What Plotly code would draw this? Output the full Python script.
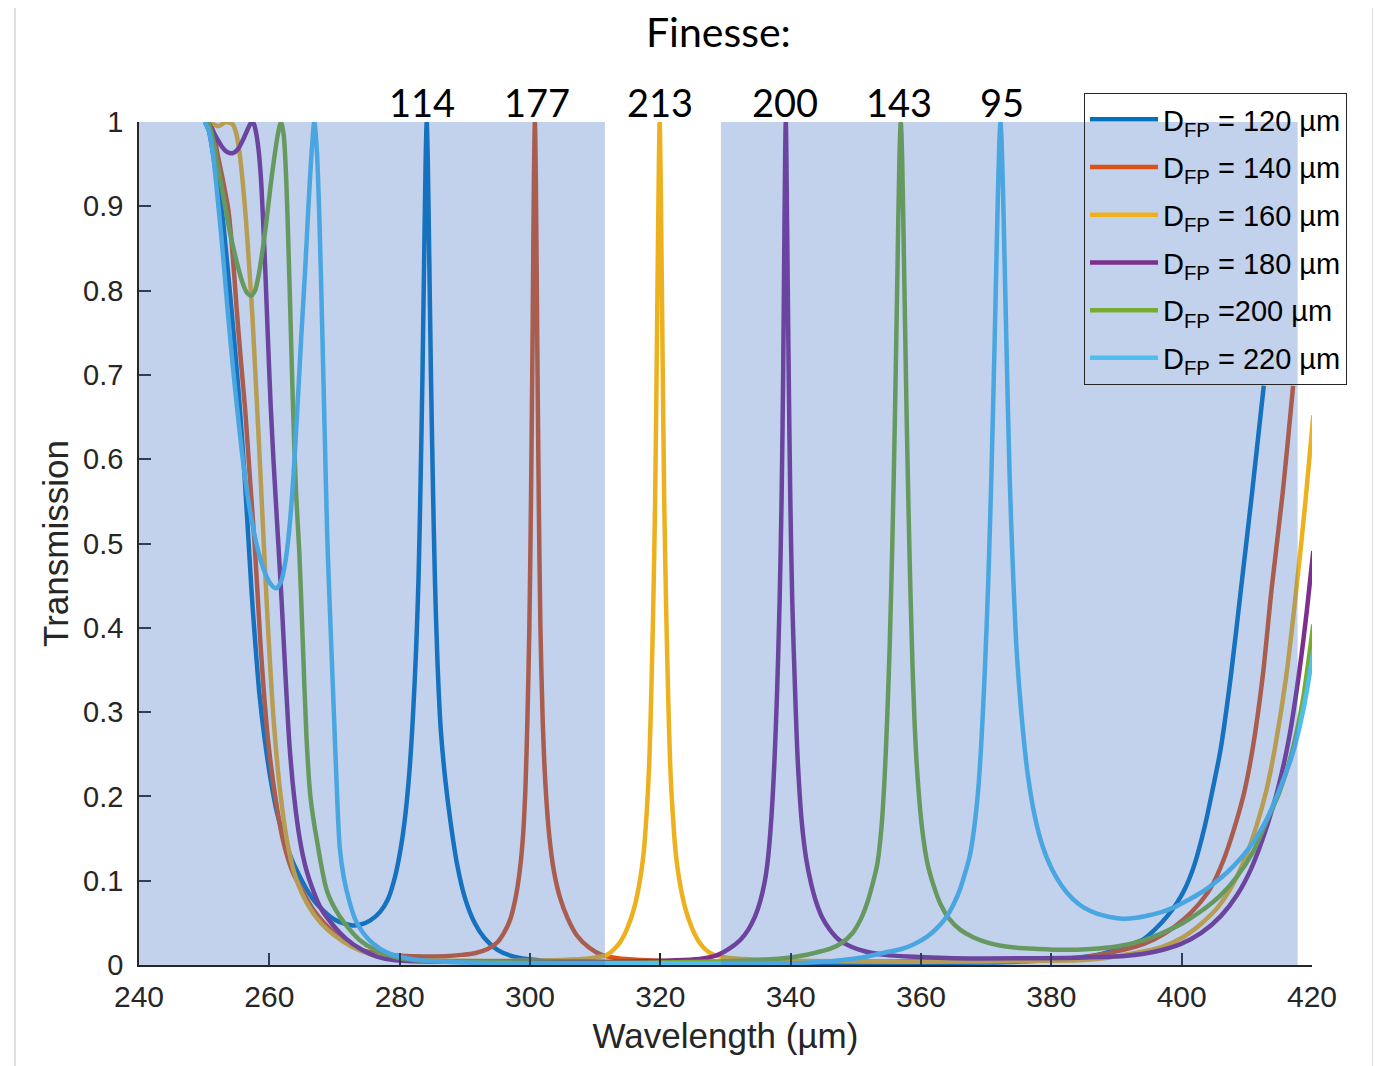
import plotly.graph_objects as go

# ---------------- data ----------------
wl_120 = [250.1, 250.7, 251.3, 252.0, 252.7, 253.5, 254.2, 254.9, 255.5, 256.2, 256.8, 257.3, 257.8, 258.5, 259.3,
          260.2, 261.2, 262.4, 263.4, 264.4, 265.7, 267.0, 268.5, 270.0, 271.5, 272.8, 274.0, 275.5, 277.0, 278.2,
          279.3, 280.2, 280.9, 281.5, 282.0, 282.5, 282.9, 283.2, 283.5, 283.8, 284.0, 284.15, 284.3, 284.5, 284.8,
          285.1, 285.4, 285.8, 286.3, 287.0, 287.8, 288.8, 290.0, 291.5, 293.0, 295.0, 297.5, 301.0, 306.0, 315.0,
          330.0, 350.0, 370.0, 378.0, 383.0, 387.0, 389.0, 391.5, 394.2, 396.0, 397.8, 399.3, 400.6, 402.0, 403.5,
          404.8, 406.0, 407.5, 409.1, 410.8, 412.6]
t_120 = [1.0, 0.99, 0.965, 0.93, 0.896, 0.835, 0.777, 0.715, 0.658, 0.58, 0.504, 0.44, 0.386, 0.32, 0.267,
         0.22, 0.18, 0.148, 0.126, 0.109, 0.09, 0.075, 0.063, 0.054, 0.049, 0.047, 0.048, 0.053, 0.063, 0.078,
         0.105, 0.14, 0.18, 0.23, 0.29, 0.37, 0.46, 0.57, 0.70, 0.86, 0.96, 1.0, 0.96, 0.86, 0.70,
         0.57, 0.46, 0.36, 0.28, 0.22, 0.17, 0.12, 0.08, 0.05, 0.032, 0.018, 0.010, 0.006, 0.004, 0.003,
         0.002, 0.002, 0.003, 0.005, 0.008, 0.012, 0.016, 0.022, 0.031, 0.043, 0.058, 0.074, 0.092, 0.12, 0.163,
         0.21, 0.257, 0.34, 0.446, 0.56, 0.687]

wl_140 = [250.9, 251.5, 252.1, 252.9, 253.7, 254.4, 255.0, 255.6, 256.3, 257.0, 257.7, 258.2, 258.6, 259.2, 259.8,
          260.9, 262.1, 263.5, 265.0, 266.7, 268.5, 270.5, 272.5, 274.5, 277.0, 280.0, 283.6, 287.0, 289.5, 291.5,
          293.5, 295.0, 296.0, 297.0, 297.8, 298.4, 298.9, 299.3, 299.6, 299.9, 300.15, 300.4, 300.6, 300.75, 300.9,
          301.1, 301.35, 301.6, 301.95, 302.4, 303.0, 303.7, 304.6, 305.8, 307.2, 309.0, 311.0, 313.5, 317.0, 325.0,
          350.0, 370.0, 380.0, 385.0, 388.0, 391.0, 394.2, 397.5, 400.3, 402.5, 404.5, 406.4, 408.1, 409.6, 410.9,
          412.4, 413.8, 415.5, 417.1]
t_140 = [1.0, 0.985, 0.96, 0.93, 0.896, 0.84, 0.777, 0.72, 0.658, 0.58, 0.504, 0.44, 0.386, 0.32, 0.267,
         0.20, 0.148, 0.112, 0.089, 0.066, 0.049, 0.035, 0.025, 0.017, 0.013, 0.011, 0.010, 0.0105, 0.012, 0.014,
         0.019, 0.027, 0.038, 0.055, 0.08, 0.11, 0.15, 0.21, 0.29, 0.40, 0.55, 0.75, 0.93, 1.0, 0.93,
         0.75, 0.55, 0.40, 0.29, 0.21, 0.15, 0.11, 0.08, 0.055, 0.035, 0.021, 0.012, 0.008, 0.006, 0.004,
         0.004, 0.005, 0.006, 0.009, 0.013, 0.018, 0.025, 0.038, 0.054, 0.071, 0.092, 0.124, 0.163, 0.205, 0.257,
         0.34, 0.446, 0.56, 0.687]

wl_160 = [250.9, 251.5, 252.1, 252.7, 253.3, 253.9, 254.4, 254.9, 255.4, 255.9, 256.4, 256.9, 257.4, 257.9, 258.4,
          258.9, 259.4, 259.9, 260.4, 260.9, 261.6, 262.7, 263.8, 265.0, 266.5, 268.0, 270.0, 272.6, 275.0, 277.5,
          281.0, 290.0, 300.0, 305.0, 308.0, 310.0, 311.8, 312.8, 313.9, 315.0, 316.0, 316.8, 317.4, 317.9, 318.3,
          318.6, 318.9, 319.2, 319.45, 319.7, 319.9, 320.1, 320.35, 320.6, 320.9, 321.2, 321.5, 321.9, 322.4, 323.0,
          323.8, 324.8, 325.9, 327.0, 328.2, 330.0, 333.0, 340.0, 360.0, 380.0, 385.0, 389.0, 392.0, 396.8, 400.0,
          403.0, 405.5, 407.6, 409.6, 411.4, 413.0, 414.3, 416.0, 417.6, 419.0, 420.2]
t_160 = [1.0, 0.997, 0.995, 0.997, 1.0, 0.999, 0.997, 0.987, 0.965, 0.93, 0.885, 0.83, 0.77, 0.695, 0.62,
         0.54, 0.46, 0.386, 0.32, 0.267, 0.21, 0.148, 0.11, 0.085, 0.064, 0.049, 0.035, 0.022, 0.014, 0.009,
         0.006, 0.005, 0.005, 0.006, 0.007, 0.009, 0.012, 0.018, 0.028, 0.045, 0.068, 0.097, 0.13, 0.18, 0.24,
         0.32, 0.42, 0.55, 0.72, 0.90, 1.0, 0.90, 0.72, 0.55, 0.42, 0.32, 0.24, 0.18, 0.13, 0.097,
         0.068, 0.045, 0.028, 0.018, 0.012, 0.009, 0.007, 0.005, 0.004, 0.005, 0.006, 0.009, 0.013, 0.021, 0.032,
         0.049, 0.068, 0.092, 0.124, 0.163, 0.207, 0.257, 0.34, 0.446, 0.55, 0.652]

wl_180 = [250.6, 251.3, 252.0, 252.8, 253.6, 254.4, 255.2, 255.9, 256.6, 257.1, 257.5, 257.9, 258.3, 258.7, 259.0,
          259.4, 259.8, 260.2, 260.7, 261.3, 261.9, 262.5, 263.1, 263.8, 264.7, 265.6, 266.7, 268.0, 269.6, 271.8,
          274.2, 276.5, 279.0, 285.0, 300.0, 315.0, 326.0, 328.5, 330.7, 332.3, 333.5, 334.5, 335.3, 336.0, 336.5,
          337.0, 337.5, 337.9, 338.3, 338.6, 338.85, 339.05, 339.25, 339.45, 339.7, 339.95, 340.25, 340.7, 341.1, 341.7,
          342.4, 343.1, 343.9, 344.8, 346.0, 347.4, 349.2, 351.5, 354.5, 358.0, 365.0, 375.0, 385.0, 391.6, 396.0,
          399.9, 403.0, 406.0, 408.5, 410.7, 412.8, 414.8, 416.5, 418.1, 419.2, 420.2]
t_180 = [1.0, 0.99, 0.98, 0.97, 0.964, 0.963, 0.968, 0.978, 0.99, 0.998, 1.0, 0.99, 0.97, 0.935, 0.89,
         0.82, 0.74, 0.665, 0.59, 0.51, 0.43, 0.34, 0.26, 0.20, 0.148, 0.115, 0.089, 0.066, 0.049, 0.031,
         0.018, 0.010, 0.006, 0.004, 0.004, 0.004, 0.007, 0.011, 0.020, 0.030, 0.042, 0.057, 0.075, 0.098, 0.125,
         0.17, 0.24, 0.32, 0.43, 0.55, 0.70, 0.88, 1.0, 0.88, 0.70, 0.55, 0.43, 0.32, 0.24, 0.17,
         0.125, 0.098, 0.075, 0.057, 0.042, 0.030, 0.022, 0.016, 0.012, 0.010, 0.008, 0.008, 0.009, 0.011, 0.016,
         0.025, 0.038, 0.058, 0.083, 0.115, 0.158, 0.21, 0.27, 0.351, 0.42, 0.491]

wl_200 = [250.6, 251.2, 251.8, 252.4, 253.1, 253.8, 254.5, 255.3, 256.0, 256.6, 257.2, 257.8, 258.4, 259.0, 259.6,
          260.2, 260.8, 261.3, 261.8, 262.2, 262.6, 262.9, 263.2, 263.6, 264.1, 264.6, 265.1, 265.7, 266.3, 267.3,
          268.8, 270.2, 271.6, 273.8, 276.2, 279.0, 282.0, 290.0, 300.0, 320.0, 335.0, 340.0, 343.5, 346.0, 347.8,
          349.5, 350.8, 351.8, 352.6, 353.3, 353.9, 354.4, 354.8, 355.2, 355.6, 356.0, 356.4, 356.7, 356.9, 357.1,
          357.4, 357.8, 358.2, 358.6, 359.0, 359.5, 360.2, 361.0, 361.9, 363.0, 364.3, 366.0, 368.0, 370.5, 374.0,
          378.0, 382.0, 386.0, 390.0, 394.0, 397.0, 400.0, 403.0, 406.0, 408.5, 411.0, 413.0, 415.0, 417.0, 418.5,
          420.2]
t_200 = [1.0, 0.985, 0.96, 0.935, 0.905, 0.875, 0.85, 0.825, 0.807, 0.797, 0.794, 0.80, 0.82, 0.85, 0.885,
         0.925, 0.96, 0.985, 1.0, 0.985, 0.93, 0.86, 0.78, 0.67, 0.56, 0.49, 0.39, 0.27, 0.20, 0.148,
         0.089, 0.065, 0.049, 0.030, 0.018, 0.010, 0.006, 0.004, 0.003, 0.003, 0.006, 0.009, 0.014, 0.019, 0.026,
         0.038, 0.055, 0.075, 0.097, 0.12, 0.16, 0.22, 0.29, 0.38, 0.50, 0.65, 0.83, 0.96, 1.0, 0.96,
         0.83, 0.65, 0.50, 0.38, 0.29, 0.22, 0.16, 0.12, 0.095, 0.072, 0.055, 0.042, 0.033, 0.026, 0.021,
         0.019, 0.018, 0.019, 0.022, 0.029, 0.038, 0.049, 0.064, 0.083, 0.105, 0.135, 0.17, 0.205, 0.255, 0.31,
         0.404]

wl_220 = [250.1, 250.7, 251.3, 252.0, 252.8, 253.6, 254.4, 255.2, 256.0, 256.8, 257.6, 258.4, 259.2, 260.1, 261.0,
          261.8, 262.5, 263.1, 263.7, 264.3, 264.9, 265.5, 266.0, 266.5, 266.9, 267.3, 267.7, 268.1, 268.5, 268.9,
          269.4, 269.9, 270.3, 270.8, 271.4, 272.3, 273.3, 274.5, 276.0, 278.0, 280.5, 284.0, 290.0, 300.0, 320.0,
          340.0, 345.0, 348.0, 351.0, 354.0, 357.0, 359.0, 361.0, 362.6, 363.9, 365.0, 366.0, 366.8, 367.5, 368.2,
          368.8, 369.3, 369.8, 370.3, 370.8, 371.3, 371.7, 372.0, 372.2, 372.4, 372.7, 373.1, 373.6, 374.1, 374.7,
          375.5, 376.4, 377.5, 378.7, 380.0, 381.5, 383.2, 385.0, 387.0, 389.0, 391.0, 393.0, 395.0, 397.0, 399.0,
          401.0, 403.0, 405.0, 407.0, 409.0, 411.0, 413.0, 415.0, 417.0, 418.7, 420.2]
t_220 = [1.0, 0.99, 0.965, 0.915, 0.85, 0.777, 0.71, 0.65, 0.595, 0.55, 0.515, 0.488, 0.468, 0.453, 0.447,
         0.455, 0.48, 0.52, 0.58, 0.66, 0.745, 0.825, 0.90, 0.965, 1.0, 0.965, 0.88, 0.76, 0.63, 0.505,
         0.40, 0.30, 0.22, 0.14, 0.105, 0.075, 0.052, 0.037, 0.025, 0.015, 0.009, 0.005, 0.003, 0.002, 0.002,
         0.002, 0.004, 0.006, 0.009, 0.014, 0.019, 0.025, 0.034, 0.045, 0.057, 0.072, 0.09, 0.11, 0.13, 0.165,
         0.21, 0.27, 0.35, 0.45, 0.58, 0.74, 0.88, 0.97, 1.0, 0.97, 0.88, 0.74, 0.58, 0.47, 0.37,
         0.29, 0.225, 0.175, 0.14, 0.115, 0.095, 0.079, 0.068, 0.061, 0.057, 0.055, 0.056, 0.059, 0.063, 0.069,
         0.077, 0.086, 0.097, 0.11, 0.126, 0.146, 0.172, 0.208, 0.25, 0.304, 0.373]

series_names = ["D<sub>FP</sub> = 120 µm", "D<sub>FP</sub> = 140 µm", "D<sub>FP</sub> = 160 µm",
                "D<sub>FP</sub> = 180 µm", "D<sub>FP</sub> =200 µm", "D<sub>FP</sub> = 220 µm"]
series_colors = ["#0072BD", "#D95319", "#EDB120", "#7E2F8E", "#77AC30", "#4DBEEE"]

finesse_labels = ["114", "177", "213", "200", "143", "95"]
finesse_wl = [283.4, 301.1, 320.0, 339.1, 356.7, 372.4]

shade_bands = [(240.0, 311.5), (329.3, 417.8)]

x_ticks = [240, 260, 280, 300, 320, 340, 360, 380, 400, 420]
y_ticks = [0, 0.1, 0.2, 0.3, 0.4, 0.5, 0.6, 0.7, 0.8, 0.9, 1]

# ---------------- figure ----------------
AX = "#262626"
FONT = "Liberation Sans, Arial, Helvetica, sans-serif"
TITLE_FONT = "Lato, Open Sans, sans-serif"

fig = go.Figure()
xs = [wl_120, wl_140, wl_160, wl_180, wl_200, wl_220]
ys = [t_120, t_140, t_160, t_180, t_200, t_220]
for i in range(6):
    fig.add_trace(go.Scatter(
        x=xs[i], y=ys[i], mode="lines", name=series_names[i], legendgroup=f"g{i}",
        line=dict(color=series_colors[i], width=4.5, shape="spline", smoothing=0.8),
    ))

shapes = []
for x0, x1 in shade_bands:
    shapes.append(dict(type="rect", xref="x", yref="y", x0=x0, x1=x1, y0=0, y1=1,
                       fillcolor="rgba(68,114,196,0.32)", line=dict(width=0), layer="above"))
# thin frame lines of the screenshot
for xp in [(15 - 139) / 1173, (1373 - 139) / 1173]:
    shapes.append(dict(type="line", xref="paper", yref="paper", x0=xp, x1=xp, y0=-0.2, y1=1.2,
                       line=dict(color="#d4d4d4", width=1.5), layer="below"))

annotations = []
for lab, wl in zip(finesse_labels, finesse_wl):
    annotations.append(dict(x=wl, xref="x", y=(965 - 102) / 843, yref="paper", text=lab, showarrow=False,
                            xanchor="center", yanchor="middle",
                            font=dict(family=TITLE_FONT, size=38, color="black")))
# chart heading
annotations.append(dict(x=(718 - 139) / 1173, xref="paper", y=(965 - 31) / 843, yref="paper",
                        text="Finesse:", showarrow=False, xanchor="center", yanchor="middle",
                        font=dict(family=TITLE_FONT, size=41, color="black")))

# the page body adds an 8px offset; margins compensate for it
fig.update_layout(
    width=1381, height=1066, autosize=False,
    margin=dict(l=131, r=77, t=114, b=109, pad=0),
    paper_bgcolor="white", plot_bgcolor="white",
    font=dict(family=FONT, size=30, color=AX),
    xaxis=dict(range=[240, 420], tickvals=x_ticks, ticktext=[str(v) for v in x_ticks],
               showline=True, linecolor=AX, linewidth=1.5, mirror=False,
               ticks="inside", ticklen=12, tickwidth=1.5, tickcolor=AX, ticklabelstandoff=4,
               showgrid=False, zeroline=False, tickfont=dict(size=30, color=AX),
               title=dict(text="Wavelength (µm)", font=dict(size=35, color=AX), standoff=12)),
    yaxis=dict(range=[0, 1], tickvals=y_ticks, ticktext=[("%g" % v) for v in y_ticks],
               showline=True, linecolor=AX, linewidth=1.5, mirror=False,
               ticks="inside", ticklen=12, tickwidth=1.5, tickcolor=AX, ticklabelstandoff=8,
               showgrid=False, zeroline=False, tickfont=dict(size=29, color=AX),
               title=dict(text="Transmission", font=dict(size=35, color=AX), standoff=4)),
    legend=dict(x=(1084 - 139) / 1173, y=(965 - 93) / 843, xanchor="left", yanchor="top",
                bgcolor="rgba(0,0,0,0)", bordercolor=AX, borderwidth=1,
                font=dict(family=FONT, size=29, color="black"),
                itemwidth=68, tracegroupgap=7),
    shapes=shapes, annotations=annotations,
)

fig.write_html("out.html")
